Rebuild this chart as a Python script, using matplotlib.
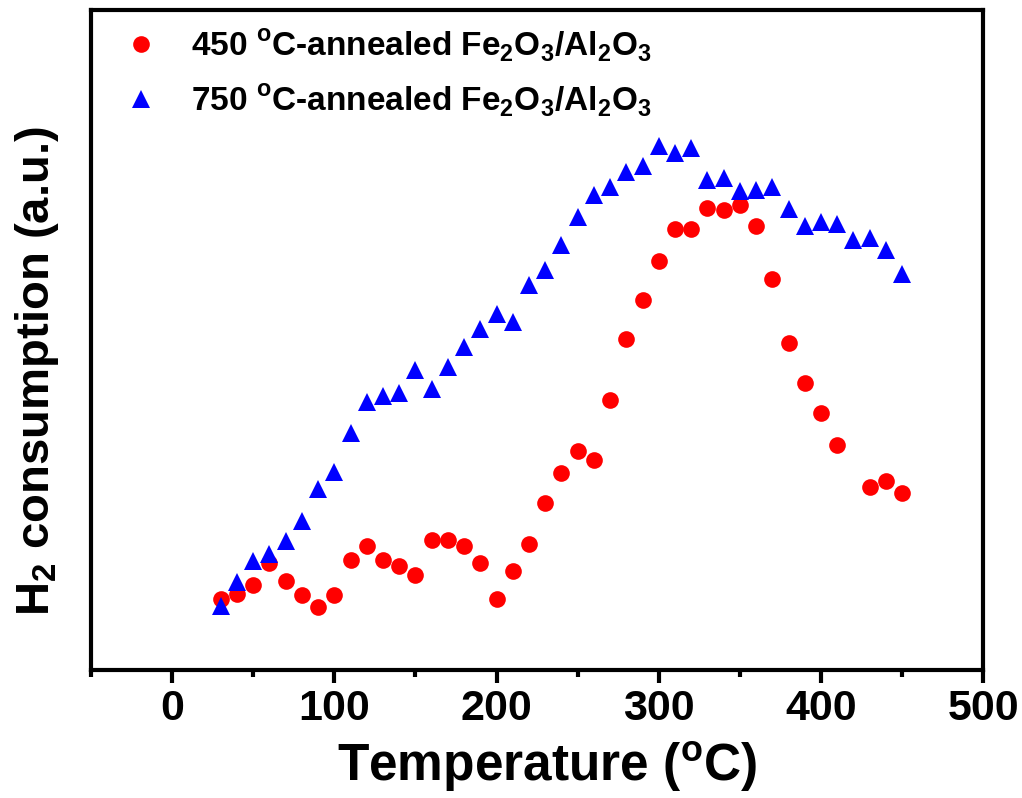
import numpy as np
import matplotlib
matplotlib.use('Agg')
import matplotlib.pyplot as plt
from matplotlib.ticker import MultipleLocator

plt.rcParams['font.family'] = ['Liberation Sans', 'DejaVu Sans']
plt.rcParams['font.weight'] = 'bold'
plt.rcParams['mathtext.fontset'] = 'custom'
plt.rcParams['mathtext.rm'] = 'Liberation Sans:bold'
plt.rcParams['mathtext.bf'] = 'Liberation Sans:bold'

# temperatures (C)
t_450 = [30, 40, 50, 60, 70, 80, 90, 100, 110, 120, 130, 140, 150, 160, 170,
         180, 190, 200, 210, 220, 230, 240, 250, 260, 270, 280, 290, 300, 310,
         320, 330, 340, 350, 360, 370, 380, 390, 400, 410, 430, 440, 450]
h2_450 = [71, 76, 85, 107, 89, 75, 63, 75, 110, 124, 110, 104, 95, 130, 130,
          124, 107, 71, 99, 126, 167, 197, 219, 210, 270, 331, 370, 409, 441,
          441, 462, 460, 465, 444, 391, 327, 287, 257, 225, 183, 189, 177]

t_750 = list(range(30, 460, 10))
h2_750 = [64, 88, 109, 116, 129, 149, 181, 198, 237, 268, 274, 277, 300, 281,
          303, 323, 341, 356, 348, 385, 400, 425, 453, 475, 483, 498, 504, 524,
          517, 522, 490, 492, 479, 480, 483, 461, 444, 448, 446, 430, 432, 420,
          396]

lab_450 = r'450 $^{\rm o}$C-annealed Fe$_{\rm 2}$O$_{\rm 3}$/Al$_{\rm 2}$O$_{\rm 3}$'
lab_750 = r'750 $^{\rm o}$C-annealed Fe$_{\rm 2}$O$_{\rm 3}$/Al$_{\rm 2}$O$_{\rm 3}$'

fig = plt.figure(figsize=(10.22, 7.98), dpi=100)
ax = fig.add_axes([0.089, 0.160, 0.873, 0.827])

ax.plot(t_450, h2_450, 'o', color='#ff0000', markersize=12, markeredgewidth=0, label=lab_450)
ax.plot(t_750, h2_750, '^', color='#0000ff', markersize=13.5, markeredgewidth=0, label=lab_750)

ax.set_xlim(-50, 500)
ax.set_ylim(0, 660)
ax.xaxis.set_major_locator(MultipleLocator(100))
ax.xaxis.set_minor_locator(MultipleLocator(50))
ax.set_yticks([])
ax.tick_params(axis='x', which='major', direction='out', length=9, width=3, pad=4.5, labelsize=31)
ax.tick_params(axis='x', which='minor', direction='out', length=5, width=3)
for s in ax.spines.values():
    s.set_linewidth(3)

ax.set_xlabel(r'Temperature ($^{\rm o}$C)', fontsize=37, fontweight='bold')
ax.xaxis.set_label_coords(0.511, -0.104)
ax.set_ylabel(r'H$_{\rm 2}$ consumption (a.u.)', fontsize=34, fontweight='bold')
ax.yaxis.set_label_coords(-0.034, 0.453)

leg = ax.legend(loc='upper left', bbox_to_anchor=(0.007, 1.0), frameon=False, fontsize=24,
                handletextpad=0.7, labelspacing=0.55, borderaxespad=0.12, handlelength=1.6)

fig.savefig('out.png', dpi=100)
